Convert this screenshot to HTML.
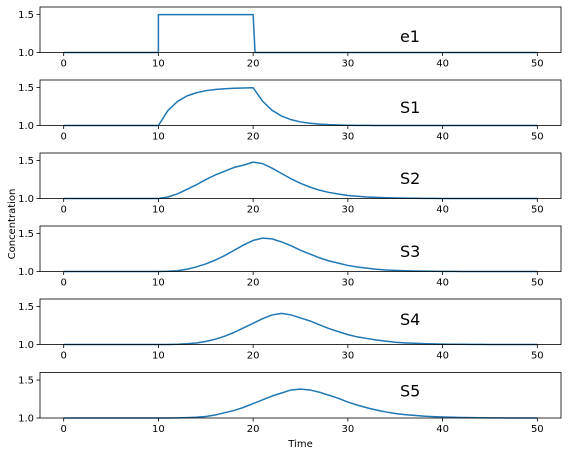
<!DOCTYPE html>
<html><head><meta charset="utf-8"><style>
body{margin:0;background:#fff;}
svg{display:block;font-family:"DejaVu Sans","Liberation Sans",sans-serif;}
</style></head><body>
<svg id="chart" width="568" height="456" viewBox="0 0 568 456"></svg>
<script>
const xTicks=[0,10,20,30,40,50];
const yTicks=[1.0,1.5];
const yTickLabels=["1.0","1.5"];
const panelNames=["e1","S1","S2","S3","S4","S5"];
const tS=[0,10,10,20,20.2,50];
const e1=[1,1,1.5,1.5,1,1];
const tInt=[];for(let i=0;i<=50;i++)tInt.push(i);
const S1=[1,1,1,1,1,1,1,1,1,1,1,1.197,1.316,1.389,1.432,1.459,1.475,1.485,1.491,1.494,1.497,1.32,1.20,1.125,1.077,1.047,1.029,1.018,1.011,1.007,1.004,1.002,1.001,1,1,1,1,1,1,1,1,1,1,1,1,1,1,1,1,1,1];
const S2=[1,1,1,1,1,1,1,1,1,1,1,1.02,1.06,1.12,1.18,1.25,1.31,1.36,1.41,1.44,1.48,1.46,1.40,1.33,1.26,1.20,1.15,1.11,1.08,1.06,1.04,1.03,1.02,1.015,1.01,1.007,1.005,1.003,1.002,1.001,1,1,1,1,1,1,1,1,1,1,1];
const S3=[1,1,1,1,1,1,1,1,1,1,1,1.003,1.01,1.03,1.06,1.10,1.15,1.21,1.28,1.35,1.41,1.44,1.43,1.39,1.34,1.28,1.23,1.18,1.14,1.11,1.08,1.06,1.045,1.03,1.02,1.015,1.01,1.007,1.005,1.003,1.002,1.001,1,1,1,1,1,1,1,1,1];
const S4=[1,1,1,1,1,1,1,1,1,1,1,1,1.003,1.01,1.02,1.04,1.07,1.11,1.16,1.22,1.28,1.34,1.39,1.41,1.39,1.35,1.31,1.26,1.21,1.17,1.13,1.10,1.08,1.06,1.045,1.03,1.022,1.016,1.011,1.008,1.005,1.004,1.003,1.002,1.001,1,1,1,1,1,1];
const S5=[1,1,1,1,1,1,1,1,1,1,1,1,1.002,1.005,1.01,1.02,1.04,1.07,1.10,1.14,1.19,1.24,1.29,1.33,1.37,1.38,1.37,1.34,1.30,1.26,1.21,1.17,1.135,1.105,1.08,1.06,1.045,1.035,1.025,1.018,1.013,1.01,1.007,1.005,1.003,1.002,1.001,1,1,1,1];
const series=[[tS,e1],[tInt,S1],[tInt,S2],[tInt,S3],[tInt,S4],[tInt,S5]];

const NS="http://www.w3.org/2000/svg";
const svg=document.getElementById('chart');
function mk(tag,attrs,parent){const e=document.createElementNS(NS,tag);for(const k in attrs)e.setAttribute(k,attrs[k]);(parent||svg).appendChild(e);return e;}
const L=40,R=561,H=45.5,tops=[7,80,153,226,299,372.5];
const labelOff=[35,33,31,31,26,24];
const xMin=-2.5,xMax=52.5,yMin=1.0,yMax=1.6;
const xs=v=>L+(v-xMin)/(xMax-xMin)*(R-L);
panelNames.forEach((nm,i)=>{
  const top=tops[i],bot=top+H;
  const ys=v=>bot-(v-yMin)/(yMax-yMin)*H;
  const g=mk('g',{});
  
  
  const [tx,ty]=series[i];
  let d='';tx.forEach((t,j)=>{d+=(j?'L':'M')+xs(t).toFixed(2)+','+ys(ty[j]).toFixed(2);});
  const ln=mk('path',{d:d,fill:'none',stroke:'#1f77b4','stroke-width':1.5,'stroke-linejoin':'round'},g);
  
  
  const fr=mk('rect',{x:L,y:top,width:R-L,height:H,fill:'none',stroke:'#000','stroke-width':0.8},g);
  
  
  xTicks.forEach(v=>{
    mk('line',{x1:xs(v),x2:xs(v),y1:bot,y2:bot+3.5,stroke:'#000','stroke-width':0.8},g);
    const t=mk('text',{x:xs(v),y:bot+14,'font-size':10,'text-anchor':'middle',fill:'#000'},g);
    t.textContent=v;
    
    
  });
  yTicks.forEach((v,k)=>{
    mk('line',{x1:L-3.5,x2:L,y1:ys(v),y2:ys(v),stroke:'#000','stroke-width':0.8},g);
    const t=mk('text',{x:L-6,y:ys(v)+3.5,'font-size':10,'text-anchor':'end',fill:'#000'},g);
    t.textContent=yTickLabels[k];
    
    
  });
  const lb=mk('text',{x:xs(35.5),y:top+labelOff[i],'font-size':16,fill:'#000'},g);
  lb.textContent=nm;
  
  
});
const xt=mk('text',{x:300.5,y:447,'font-size':10,'text-anchor':'middle'});
xt.textContent='Time';


const yt=mk('text',{x:15,y:224,'font-size':10,'text-anchor':'middle',transform:'rotate(-90 15 224)'});
yt.textContent='Concentration';


</script>
</body></html>
